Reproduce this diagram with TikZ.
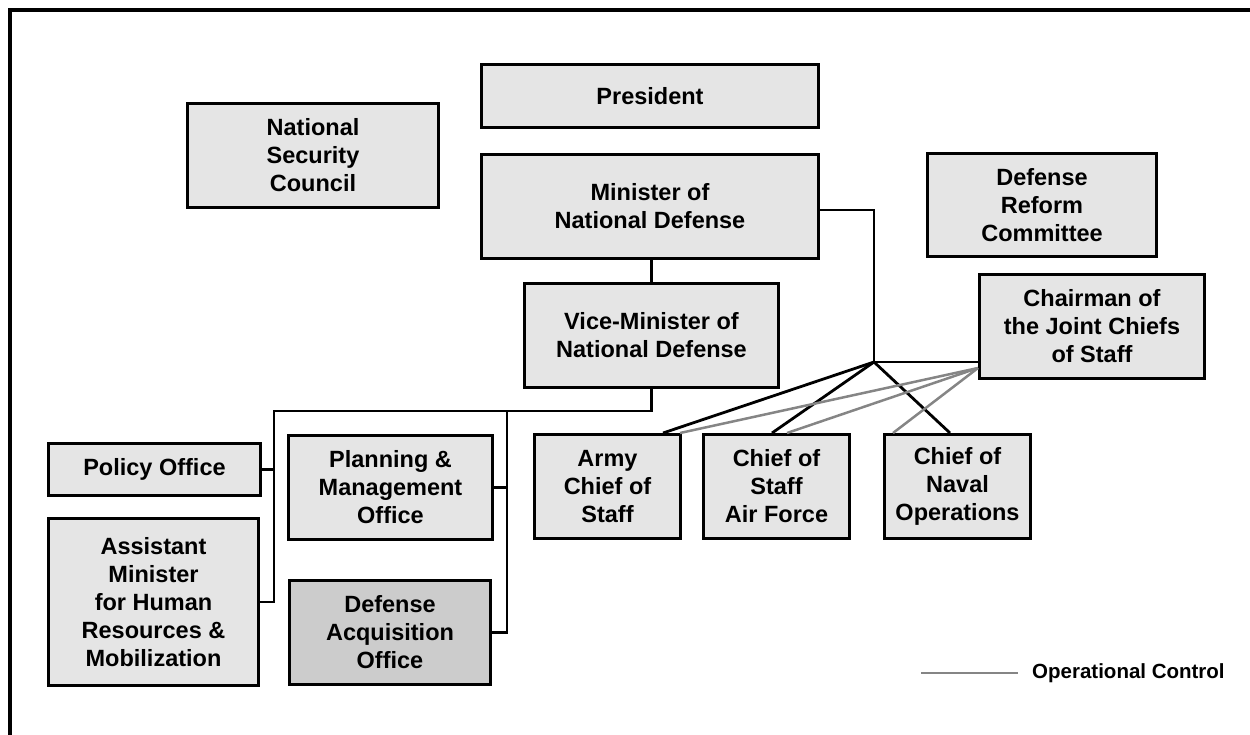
\documentclass[tikz,border=0pt]{standalone}
\usepackage{fontspec}
\setmainfont{Liberation Sans}
\usetikzlibrary{calc}

\definecolor{boxfill}{gray}{0.90}
\definecolor{boxdark}{gray}{0.80}
\definecolor{opgray}{gray}{0.52}

\tikzset{
  orgbox/.style={draw=black, line width=3pt, fill=boxfill, inner sep=0pt,
    align=center, font=\fontsize{23.5}{28}\selectfont\bfseries},
  link/.style={draw=black, line width=2.8pt},
  oplink/.style={draw=opgray, line width=2.5pt},
  frameline/.style={draw=black, line width=3.2pt},
}

\begin{document}
\begin{tikzpicture}[x=1pt, y=-1pt]
\useasboundingbox (0,0) rectangle (1250,734);

% outer frame, open to the right and bottom
\draw[frameline] (1270,10) -- (10,10) -- (10,750);

% boxes
\node[orgbox, minimum width=251pt, minimum height=104pt] (nsc) at (313,155.5) {National\\Security\\Council};
\node[orgbox, minimum width=337pt, minimum height=63pt] (pres) at (650,96) {President};
\node[orgbox, minimum width=337pt, minimum height=104pt] (mnd) at (650,206.5) {Minister of\\National Defense};
\node[orgbox, minimum width=229pt, minimum height=103pt] (drc) at (1042,205) {Defense\\Reform\\Committee};
\node[orgbox, minimum width=254pt, minimum height=104pt] (vice) at (651.5,335.5) {Vice-Minister of\\National Defense};
\node[orgbox, minimum width=225pt, minimum height=104pt] (jcs) at (1092,326.5) {Chairman of\\the Joint Chiefs\\of Staff};
\node[orgbox, minimum width=212pt, minimum height=52pt] (policy) at (154.5,469.5) {Policy Office};
\node[orgbox, minimum width=210pt, minimum height=167pt] (asst) at (153.5,602) {Assistant\\Minister\\for Human\\Resources \&\\Mobilization};
\node[orgbox, minimum width=204pt, minimum height=104pt] (plan) at (390.5,487.5) {Planning \&\\Management\\Office};
\node[orgbox, fill=boxdark, minimum width=201pt, minimum height=104pt] (dao) at (390,632.5) {Defense\\Acquisition\\Office};
\node[orgbox, minimum width=146pt, minimum height=104pt] (army) at (607.5,486.5) {Army\\Chief of\\Staff};
\node[orgbox, minimum width=146pt, minimum height=104pt] (air) at (776.5,486.5) {Chief of\\Staff\\Air Force};
\node[orgbox, minimum width=146pt, minimum height=104pt] (navy) at (957.5,486.5) {Chief of\\Naval\\Operations};

% junction points
\coordinate (hub) at (874,362);
\coordinate (bus) at (vice.south |- 0,411);
\coordinate (busL) at (274,411);
\coordinate (busR) at (507,411);
\coordinate (opsrc) at ($(jcs.south west)+(0,-12)$);

% command lines
\draw[link] (vice.north |- mnd.south) -- (vice.north);
\draw[link] ($(mnd.east)+(0,3.5)$) -| (hub);
\draw[link] (hub) -- (hub -| jcs.west);
\draw[link] (hub) -- ($(army.north east)+(-19,0)$);
\draw[link] (hub) -- ($(air.north)+(-4.5,0)$);
\draw[link] (hub) -- ($(navy.north)+(-7.5,0)$);

% operational control lines
\draw[oplink] (opsrc) -- ($(army.north east)+(-2,0)$);
\draw[oplink] (opsrc) -- ($(air.north)+(10.5,0)$);
\draw[oplink] (opsrc) -- ($(navy.north west)+(10,0)$);

% staff offices under the vice-minister
\draw[link] (vice.south) -- (bus) -- (busL) -- (busL |- asst.east) -- (asst.east);
\draw[link] (policy.east) -- (policy.east -| busL);
\draw[link] (busR) -- (busR |- dao.east) -- (dao.east);
\draw[link] (plan.east) -- (plan.east -| busR);

% legend
\coordinate (legA) at (921,673);
\coordinate (legB) at (1018,673);
\draw[oplink] (legA) -- (legB);
\node[anchor=west, inner sep=0pt, font=\fontsize{20.5}{24}\selectfont\bfseries] (legtext) at (1032,673) {Operational Control};
\end{tikzpicture}
\end{document}
